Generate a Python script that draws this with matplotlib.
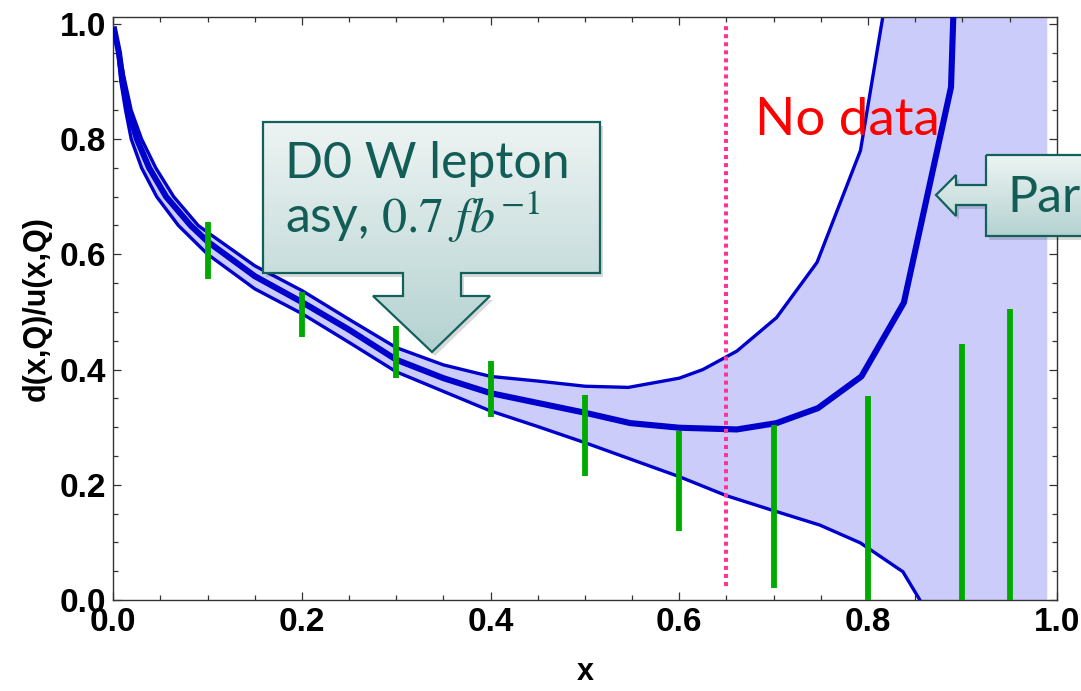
import numpy as np
import matplotlib
matplotlib.use('Agg')
import matplotlib.pyplot as plt
from matplotlib.patches import Polygon
from matplotlib.colors import LinearSegmentedColormap

plt.rcParams['font.family'] = ['Liberation Sans', 'DejaVu Sans']
plt.rcParams['mathtext.fontset'] = 'stix'

# d/u ratio: central fit and the two band edges
x_mid = [0.001, 0.006, 0.010, 0.016, 0.025, 0.038, 0.056, 0.082, 0.1, 0.15, 0.2, 0.25,
         0.3, 0.35, 0.4, 0.45, 0.5, 0.548, 0.6, 0.661, 0.703, 0.747, 0.793, 0.838, 0.888, 0.92]
y_mid = [0.99, 0.95, 0.90, 0.85, 0.80, 0.75, 0.70, 0.65, 0.622, 0.562, 0.517, 0.469,
         0.417, 0.385, 0.359, 0.342, 0.325, 0.307, 0.299, 0.296, 0.307, 0.333, 0.388, 0.516, 0.890, 2.5]

x_up = [0.001, 0.006, 0.011, 0.019, 0.030, 0.045, 0.064, 0.090, 0.1, 0.15, 0.2, 0.25,
        0.3, 0.35, 0.4, 0.45, 0.5, 0.546, 0.6, 0.625, 0.661, 0.703, 0.746, 0.792, 0.84, 0.99]
y_up = [0.99, 0.955, 0.91, 0.85, 0.80, 0.75, 0.70, 0.65, 0.638, 0.58, 0.537, 0.487,
        0.438, 0.408, 0.388, 0.380, 0.371, 0.369, 0.385, 0.400, 0.432, 0.490, 0.586, 0.780, 1.25, 3.0]

x_lo = [0.001, 0.005, 0.008, 0.013, 0.019, 0.030, 0.046, 0.069, 0.1, 0.15, 0.2, 0.25,
        0.3, 0.35, 0.4, 0.45, 0.5, 0.6, 0.65, 0.70, 0.749, 0.792, 0.837, 0.855, 0.88, 0.99]
y_lo = [0.99, 0.95, 0.90, 0.85, 0.80, 0.75, 0.70, 0.65, 0.600, 0.54, 0.497, 0.447,
        0.396, 0.362, 0.328, 0.301, 0.273, 0.214, 0.181, 0.155, 0.130, 0.099, 0.049, 0.0, -0.5, -3.0]

# D0 W lepton asymmetry error bars
x_d0 = [0.1, 0.2, 0.3, 0.4, 0.5, 0.6, 0.7, 0.8, 0.9, 0.95]
d0_hi = [0.656, 0.534, 0.475, 0.414, 0.355, 0.294, 0.304, 0.354, 0.444, 0.505]
d0_lo = [0.557, 0.456, 0.386, 0.317, 0.216, 0.119, 0.021, 0.0, 0.0, 0.0]

x_nodata = 0.65

fig = plt.figure(figsize=(10.81, 6.91), dpi=100)
ax = fig.add_axes([0.1048, 0.1317, 0.8727, 0.8430])

band_x = np.r_[x_up, x_lo[::-1]]
band_y = np.r_[y_up, y_lo[::-1]]
ax.fill(band_x, band_y, color='#ccccfa', lw=0, zorder=1)
ax.plot(x_up, y_up, color='#0000cc', lw=2.4, zorder=2)
ax.plot(x_lo, y_lo, color='#0000cc', lw=2.4, zorder=2)
ax.plot(x_mid, y_mid, color='#0000cc', lw=4.4, zorder=3)
ax.vlines(x_d0, d0_lo, d0_hi, color='#00aa00', lw=4.2, zorder=4)
ax.plot([x_nodata, x_nodata], [0.025, 1.0], color='#ff3399', lw=2.9,
        linestyle=(0, (1, 1)), zorder=5)

ax.text(0.68, 0.807, 'No data', color='#ff0000', fontsize=38, family=['Lato', 'DejaVu Sans'],
        va='baseline', zorder=6)

ax.set_xlim(0, 1.0)
ax.set_ylim(0, 1.011)
ax.set_xticks(np.arange(0, 1.01, 0.2))
ax.set_yticks(np.arange(0, 1.01, 0.2))
ax.set_xticks(np.arange(0, 1.01, 0.05), minor=True)
ax.set_yticks(np.arange(0, 1.01, 0.05), minor=True)
ax.xaxis.set_major_formatter(matplotlib.ticker.FormatStrFormatter('%.1f'))
ax.yaxis.set_major_formatter(matplotlib.ticker.FormatStrFormatter('%.1f'))
ax.tick_params(which='both', direction='in', top=True, right=True, color='#333333', width=0.9)
ax.tick_params(which='major', length=5.5, labelsize=24, pad=5)
ax.tick_params(which='minor', length=3.5)
for lab in ax.get_xticklabels() + ax.get_yticklabels():
    lab.set_fontweight('bold')
for s in ax.spines.values():
    s.set_color('#333333')
    s.set_linewidth(1.0)
ax.set_xlabel('x', fontsize=22, fontweight='bold', labelpad=14)
ax.set_ylabel('d(x,Q)/u(x,Q)', fontsize=22, fontweight='bold', labelpad=6)

# callouts drawn in pixel coordinates on an overlay
ov = fig.add_axes([0, 0, 1, 1], zorder=10)
ov.patch.set_alpha(0)
ov.axis('off')
grad_cmap = LinearSegmentedColormap.from_list('teal', ['#edf4f3', '#b4d2d1'])


def callout(pts):
    pts = np.array(pts, dtype=float)
    shadow = Polygon(pts + [3, 4], closed=True, fc='#000000', alpha=0.15, lw=0, zorder=1)
    ov.add_patch(shadow)
    poly = Polygon(pts, closed=True, fc='none', ec='#12625c', lw=1.6, zorder=3)
    ov.add_patch(poly)
    img = ov.imshow(np.linspace(0, 1, 256)[:, None], cmap=grad_cmap, aspect='auto',
                    extent=(pts[:, 0].min(), pts[:, 0].max(), pts[:, 1].max(), pts[:, 1].min()),
                    zorder=2)
    img.set_clip_path(poly)


callout([(263, 122), (600, 122), (600, 273), (461, 273), (461, 296), (490, 296),
         (432, 352), (373, 296), (403, 296), (403, 273), (263, 273)])
callout([(986, 155), (1110, 155), (1110, 236), (986, 236), (986, 205), (956, 205),
         (956, 216), (936, 195), (956, 175), (956, 185), (986, 185)])

txt_font = ['Lato', 'DejaVu Sans']
ov.text(285, 178, 'D0 W lepton', fontsize=36, family=txt_font, color='#135d57', va='baseline', zorder=4)
ov.text(285, 233, 'asy, $0.7\\ fb^{-1}$', fontsize=36, family=txt_font, color='#135d57',
        va='baseline', zorder=4)
ov.text(1007, 212, 'Par', fontsize=36, family=txt_font, color='#135d57',
        va='baseline', zorder=4)

ov.set_xlim(0, 1081)
ov.set_ylim(691, 0)

fig.savefig('out.png', dpi=100)
